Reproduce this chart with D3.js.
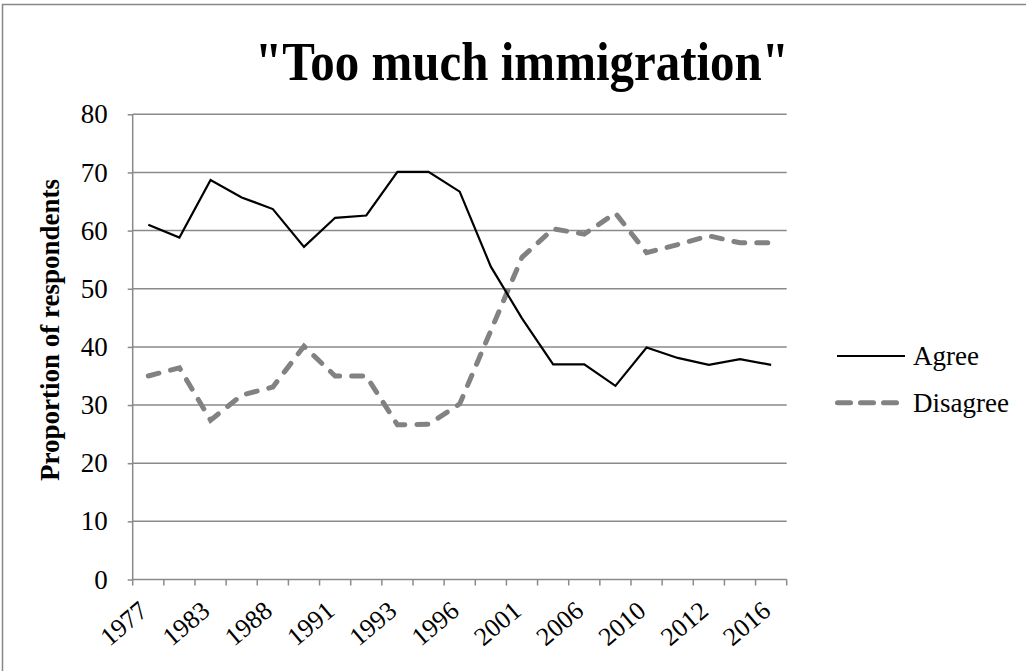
<!DOCTYPE html>
<html>
<head>
<meta charset="utf-8">
<script src="https://cdn.jsdelivr.net/npm/d3@7"></script>
<style>
  body { margin: 0; background: #fff; }
  svg text { font-family: "Liberation Serif", "Times New Roman", serif; fill: #000; }
</style>
</head>
<body>
<div class="graph"></div>
<script>
const width = 1026;
const height = 671;
const margin = { top: 114.3, right: 239.3, bottom: 91.5, left: 132.7 };

// survey years (only every other one is labelled on the axis)
const years = ["1977", "1980", "1983", "1985", "1988", "1989", "1991", "1992", "1993", "1994", "1996",
  "1998", "2001", "2003", "2006", "2008", "2010", "2011", "2012", "2015", "2016"];
const agree = [61, 58.8, 68.7, 65.7, 63.7, 57.2, 62.2, 62.6, 70.1, 70.1, 66.7,
  53.8, 44.9, 37, 37, 33.3, 39.9, 38.1, 36.9, 37.9, 36.9];
const disagree = [35, 36.4, 27.4, 31.7, 33.1, 40.1, 35, 35, 26.6, 26.7, 30.2,
  42.8, 55.4, 60.3, 59.4, 63, 56.2, 57.6, 59.1, 57.9, 57.9];
const yTicks = [0, 10, 20, 30, 40, 50, 60, 70, 80];

const canvas = d3.select(".graph")
  .append("svg")
  .attr("width", width)
  .attr("height", height);

// outer frame
canvas.append("rect")
  .attr("x", 2.5).attr("y", 4.5)
  .attr("width", 1040).attr("height", 700)
  .attr("fill", "none")
  .attr("stroke", "#878787")
  .attr("stroke-width", 1.5);

canvas.append("text")
  .attr("x", 522)
  .attr("y", 80)
  .attr("text-anchor", "middle")
  .attr("font-size", 54)
  .attr("font-weight", "bold")
  .attr("textLength", 534)
  .attr("lengthAdjust", "spacingAndGlyphs")
  .text('"Too much immigration"');

const x = d3.scaleBand()
  .domain(years)
  .range([margin.left, width - margin.right])
  .padding(0);

const y = d3.scaleLinear()
  .domain([0, 80])
  .range([height - margin.bottom, margin.top]);

// gridlines
canvas.append("g")
  .selectAll("line")
  .data(yTicks.filter(d => d > 0))
  .enter().append("line")
  .attr("x1", margin.left)
  .attr("x2", width - margin.right)
  .attr("y1", d => y(d))
  .attr("y2", d => y(d))
  .attr("stroke", "#8a8a8a")
  .attr("stroke-width", 1.5);

const yAxis = d3.axisLeft(y).tickValues(yTicks).tickSize(5).tickPadding(20);
const gy = canvas.append("g")
  .attr("transform", `translate(${margin.left}, 0)`)
  .call(yAxis);
gy.selectAll("path, line").attr("stroke", "#8a8a8a").attr("stroke-width", 1.5);
gy.select(".domain").attr("d", `M0,${y(80)}V${y(0)}`);
gy.selectAll("text")
  .attr("font-size", 27)
  .attr("font-family", "Liberation Serif")
  .attr("fill", "#000");

// x axis: ticks between categories
const xg = canvas.append("g")
  .attr("transform", `translate(0, ${y(0)})`);
xg.append("line")
  .attr("x1", margin.left).attr("x2", width - margin.right)
  .attr("stroke", "#8a8a8a").attr("stroke-width", 1.5);
xg.selectAll(".tk")
  .data(years.concat(["end"]))
  .enter().append("line")
  .attr("class", "tk")
  .attr("x1", (d, i) => margin.left + i * x.bandwidth())
  .attr("x2", (d, i) => margin.left + i * x.bandwidth())
  .attr("y1", 0).attr("y2", 6)
  .attr("stroke", "#8a8a8a").attr("stroke-width", 1.5);
xg.selectAll(".lbl")
  .data(years.filter((d, i) => i % 2 === 0))
  .enter().append("text")
  .attr("class", "lbl")
  .attr("transform", d => `translate(${x(d) + x.bandwidth() / 2 + 1}, 34) rotate(-40)`)
  .attr("text-anchor", "end")
  .attr("font-size", 26)
  .text(d => d);

canvas.append("text")
  .attr("transform", `translate(59, 330) rotate(-90)`)
  .attr("text-anchor", "middle")
  .attr("font-size", 27)
  .attr("font-weight", "bold")
  .text("Proportion of respondents");

const line = d3.line()
  .x((d, i) => x(years[i]) + x.bandwidth() / 2)
  .y(d => y(d));

canvas.append("path")
  .datum(disagree)
  .attr("d", line)
  .attr("fill", "none")
  .attr("stroke", "#828282")
  .attr("stroke-width", 5)
  .attr("stroke-linecap", "round")
  .attr("stroke-dasharray", "11,12");

canvas.append("path")
  .datum(agree)
  .attr("d", line)
  .attr("fill", "none")
  .attr("stroke", "#000")
  .attr("stroke-width", 2.2);

// legend
const legend = [
  { name: "Agree", color: "#000", w: 2.2, dash: null, cap: "butt" },
  { name: "Disagree", color: "#828282", w: 5, dash: "13,10", cap: "round" }
];
const lg = canvas.selectAll(".legend")
  .data(legend)
  .enter().append("g")
  .attr("class", "legend")
  .attr("transform", (d, i) => `translate(0, ${356 + i * 46.7})`);
lg.append("line")
  .attr("x1", d => d.dash ? 837.5 : 837).attr("x2", d => d.dash ? 897.5 : 905)
  .attr("stroke", d => d.color)
  .attr("stroke-width", d => d.w)
  .attr("stroke-linecap", d => d.cap)
  .attr("stroke-dasharray", d => d.dash);
lg.append("text")
  .attr("x", 913)
  .attr("y", 9)
  .attr("font-size", 27)
  .text(d => d.name);
</script>
</body>
</html>
